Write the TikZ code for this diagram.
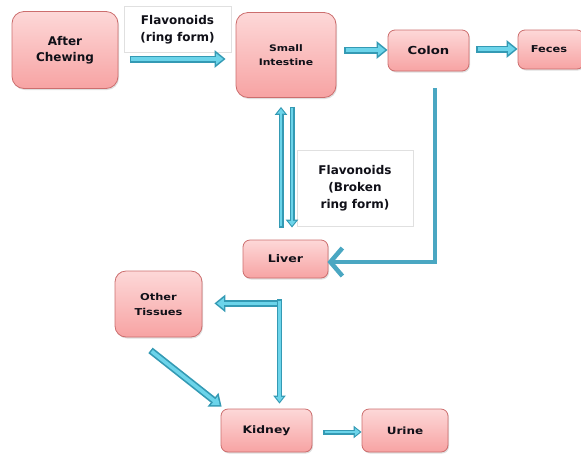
\documentclass[tikz,border=0pt]{standalone}
\usepackage{fontspec}
\setmainfont{DejaVu Sans}
\newfontfamily\wf[FakeStretch=1.2]{DejaVu Sans}
\usetikzlibrary{arrows.meta,shadows,calc}
\definecolor{boxtop}{HTML}{FDD8D8}
\definecolor{boxbot}{HTML}{F7A3A3}
\definecolor{boxline}{HTML}{CC6E6E}
\definecolor{arrdark}{HTML}{349AB4}
\definecolor{arrlight}{HTML}{6CD4EA}
\definecolor{steelc}{HTML}{4AA7C2}
\definecolor{txt}{HTML}{101018}
\tikzset{
  organ/.style={draw=boxline, line width=0.8pt, rounded corners=9pt,
    top color=boxtop, bottom color=boxbot, align=center, text=txt,
    inner sep=2pt,
    drop shadow={shadow xshift=1pt, shadow yshift=-1.5pt, opacity=0.25}},
  lbl/.style={draw=black!12, fill=white, align=center, text=txt, inner sep=0pt},
  bigo/.style={line width=7pt, draw=arrdark, -{Triangle[length=11pt,width=17pt]}},
  bigi/.style={line width=3.6pt, draw=arrlight, shorten <=1.5pt, shorten >=2.4pt,
    -{Triangle[length=7pt,width=10.5pt]}},
  smo/.style={line width=5pt, draw=arrdark, -{Triangle[length=8pt,width=12pt]}},
  smi/.style={line width=2.4pt, draw=arrlight, shorten <=1.3pt, shorten >=1.8pt,
    -{Triangle[length=5pt,width=7.5pt]}},
  steelarrow/.style={line width=4.5pt, draw=steelc,
    -{Straight Barb[length=12pt,width=28pt]}}
}
\newcommand\flowarrow[2]{\draw[#1o] #2; \draw[#1i] #2;}
\begin{document}
\begin{tikzpicture}[x=1pt,y=-1pt]
\useasboundingbox (0,0) rectangle (581,456);
\clip (0,0) rectangle (581,456);

% organ boxes
\node[organ, minimum width=106pt, minimum height=77pt, rounded corners=12pt,
  font=\fontsize{12}{16}\selectfont\bfseries] (ac) at (65,50) {After\\Chewing};
\node[organ, minimum width=100pt, minimum height=85pt, rounded corners=12pt,
  font=\wf\fontsize{9}{14}\selectfont\bfseries] (si) at (286,55) {Small\\Intestine};
\node[organ, minimum width=81pt, minimum height=41pt, rounded corners=7pt,
  font=\wf\fontsize{11}{13}\selectfont\bfseries] (co) at (428.5,50.5) {Colon};
\node[organ, minimum width=66pt, minimum height=39pt, rounded corners=7pt,
  font=\wf\fontsize{9.5}{12}\selectfont\bfseries] (fe) at (551,49.5) {Feces\hspace*{4pt}};
\node[organ, minimum width=85pt, minimum height=38pt, rounded corners=7pt,
  font=\wf\fontsize{10.5}{13}\selectfont\bfseries] (li) at (285.5,259) {Liver};
\node[organ, minimum width=87pt, minimum height=66pt, rounded corners=11pt,
  font=\wf\fontsize{9.5}{15}\selectfont\bfseries] (ot) at (158.5,304) {Other\\Tissues};
\node[organ, minimum width=91pt, minimum height=43pt, rounded corners=7pt,
  font=\wf\fontsize{10.3}{13}\selectfont\bfseries] (ki) at (266.5,430.5) {Kidney};
\node[organ, minimum width=86pt, minimum height=43pt, rounded corners=7pt,
  font=\wf\fontsize{10}{13}\selectfont\bfseries] (ur) at (405,430.5) {Urine};

% label boxes
\node[lbl, minimum width=107pt, minimum height=46pt,
  font=\fontsize{12}{17}\selectfont\bfseries] (l1) at (177.5,29.5) {Flavonoids\\(ring form)};
\node[lbl, minimum width=116pt, minimum height=76pt,
  font=\fontsize{12}{17}\selectfont\bfseries] (l2) at (355,188) {Flavonoids\\(Broken\\ring form)};

% main flow arrows
\flowarrow{big}{($(ac.east -| si.west)+(-106,9)$) -- ($(ac.east -| si.west)+(-10,9)$)}
\flowarrow{big}{($(si.east)+(8,-5)$) -- ($(co.west)+(0,-0.5)$)}
\flowarrow{big}{($(co.east)+(7,-1.5)$) -- ($(fe.west)+(0,-0.5)$)}

% small intestine <-> liver
\flowarrow{sm}{($(li.north)+(-4.5,-12)$) -- ($(si.south)+(-5,9)$)}
\flowarrow{sm}{($(si.south)+(6,9)$) -- ($(li.north)+(6.5,-12)$)}

% colon -> liver
\draw[steelarrow] ($(co.south)+(6.5,17)$) |- ($(li.east)+(-1,3)$);

% liver -> other tissues / kidney
\coordinate (br) at ($(li.south)+(-6,21)$);
\coordinate (brh) at ($(li.south)+(-4,25)$);
\flowarrow{big}{(brh) -- ($(brh -| ot.east)+(12,0)$)}
\flowarrow{sm}{(br) -- ($(br |- ki.north)+(0,-5)$)}

% other tissues -> kidney
\flowarrow{big}{($(ot.south)+(-8,13)$) -- ($(ki.north west)+(1,-2)$)}

% kidney -> urine
\flowarrow{sm}{($(ki.east)+(11,1.5)$) -- ($(ur.west)+(0,1.5)$)}
\end{tikzpicture}
\end{document}
